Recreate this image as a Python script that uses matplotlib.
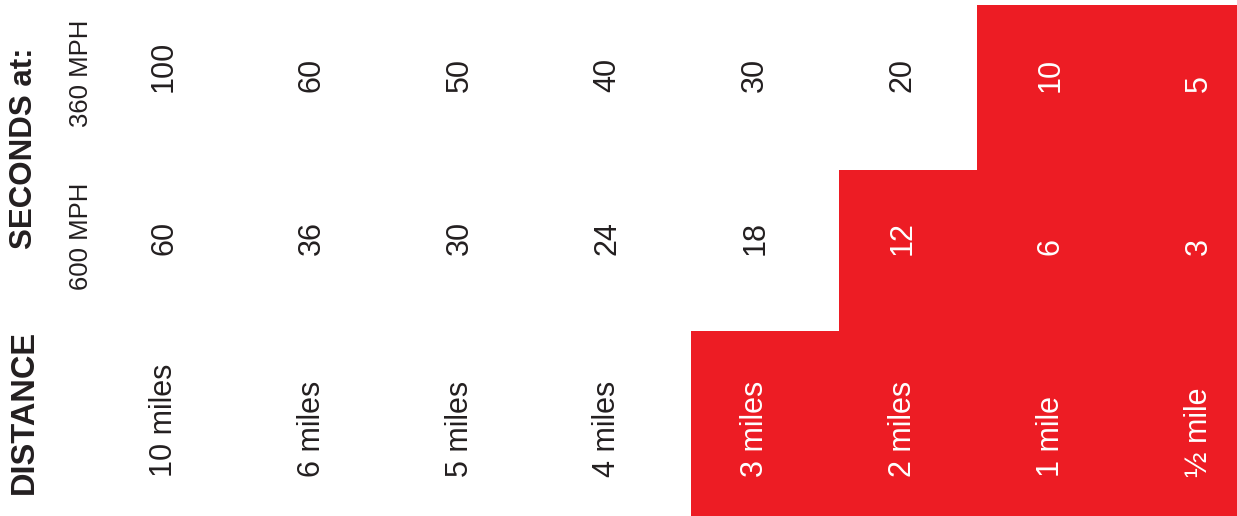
import matplotlib.pyplot as plt

plt.rcParams['font.family'] = ['Liberation Sans', 'DejaVu Sans']

# table data
distances = ['10 miles', '6 miles', '5 miles', '4 miles',
             '3 miles', '2 miles', '1 mile', '½ mile']
secs_600 = [60, 36, 30, 24, 18, 12, 6, 3]
secs_360 = [100, 60, 50, 40, 30, 20, 10, 5]
# first column that is highlighted red, per row
red_from = {'distance': 4, '600': 5, '360': 6}

RED = '#ED1C24'
INK = '#231F20'

fig = plt.figure(figsize=(12.37, 5.16), dpi=100)
ax = fig.add_axes([0, 0, 1, 1])
step = 147.8
x0 = 164
ax.set_xlim(-x0 / step, (1237 - x0) / step)
ax.set_ylim(516, 0)
ax.axis('off')

# row bands in pixel rows (top edge of each band) and left edge offsets
row_top = {'distance': 331, '600': 170, '360': 5}
edge_off = {'distance': -0.437, '600': -0.435, '360': -0.497}

# red staircase: one bar per highlighted column
cols = range(len(distances))
for i in cols:
    if i >= red_from['360']:
        key = '360'
    elif i >= red_from['600']:
        key = '600'
    elif i >= red_from['distance']:
        key = 'distance'
    else:
        continue
    top = row_top[key]
    ax.bar(i + edge_off[key], 516 - top, bottom=top, width=1.02,
           align='edge', color=RED, linewidth=0)

fs = 22
for i in cols:
    c = 'white' if i >= red_from['distance'] else INK
    ax.text(i, 477, distances[i], rotation=90, ha='center', va='bottom',
            fontsize=fs, color=c)
    c = 'white' if i >= red_from['600'] else INK
    ax.text(i, 255, str(secs_600[i]), rotation=90, ha='center', va='bottom',
            fontsize=fs, color=c)
    c = 'white' if i >= red_from['360'] else INK
    ax.text(i, 92, str(secs_360[i]), rotation=90, ha='center', va='bottom',
            fontsize=fs, color=c)

# headers
hx = (24 - x0) / step
mx = (81 - x0) / step
ax.text(hx, 494, 'DISTANCE', rotation=90, ha='center', va='bottom',
        fontsize=23.5, fontweight='bold', color=INK)
ax.text(hx, 249, 'SECONDS at:', rotation=90, ha='center', va='bottom',
        fontsize=22.5, fontweight='bold', color=INK)
ax.text(mx, 290, '600 MPH', rotation=90, ha='center', va='bottom',
        fontsize=18.5, color=INK)
ax.text(mx, 127, '360 MPH', rotation=90, ha='center', va='bottom',
        fontsize=18.5, color=INK)

fig.savefig('out.png', dpi=100)
